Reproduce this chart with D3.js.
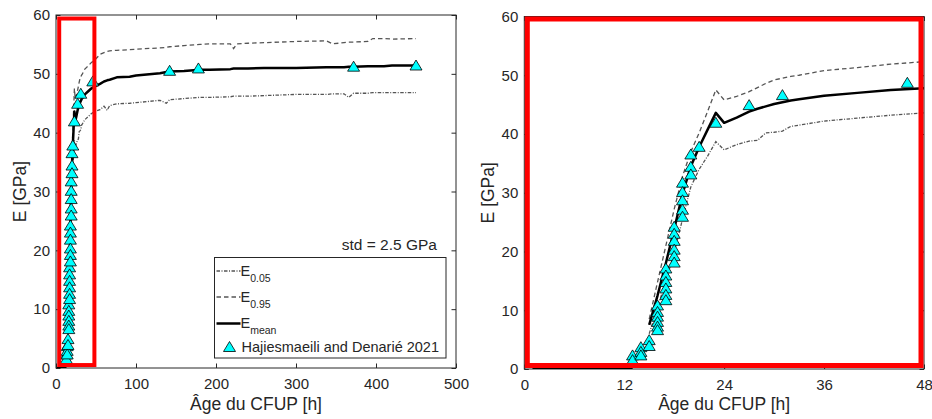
<!DOCTYPE html>
<html><head><meta charset="utf-8">
<script src="https://cdn.jsdelivr.net/npm/d3@7"></script>
<style>
body{margin:0;background:#fff}
svg{display:block}
text{font-family:"Liberation Sans",Arial,sans-serif;fill:#262626}
</style>
</head><body><svg id="c" width="932" height="419"></svg>
<script>
// ---------- data ----------
const hours = [1, 13, 14, 15, 16, 17, 18, 19, 20, 21, 22, 23, 24, 25.5, 27, 28, 29, 30, 31, 32, 33, 36, 40, 44, 48,
  55, 60, 64, 67, 76, 92, 100, 130, 138, 142, 160, 180, 192, 218, 222, 226, 240, 260, 300, 338, 346, 360, 366, 372, 390, 396, 410, 420, 450];
const eMean = [0, 0, null, 7.5, 12.5, 18.0, 23.8, 29.8, 34.5, 37.8, 40.7, 43.6, 41.9, 42.8, 43.8, 44.3, 44.7, 45.1, 45.4, 45.7, 45.9, 46.5, 47.0, 47.5, 47.8,
  48.3, 48.7, 48.9, 49.0, 49.4, 49.5, 49.7, 50.1, 50.3, 50.4, 50.5, 50.7, 50.7, 50.8, 50.9, 50.9, 50.9, 51.0, 51.0, 51.1, 51.1, 51.1, 51.2, 51.2, 51.3, 51.3, 51.3, 51.4, 51.4];
const eP95 = [0, 0, null, 8.5, 14.8, 21.0, 27.2, 32.8, 37.0, 40.2, 43.8, 47.5, 45.8, 46.4, 47.2, 47.9, 48.6, 49.2, 49.5, 49.8, 50.0, 50.8, 51.3, 51.9, 52.3,
  53.3, 53.6, 53.8, 53.9, 54.0, 54.1, 54.2, 54.4, 54.5, 54.6, 54.8, 55.0, 55.1, 55.1, 54.3, 55.1, 55.2, 55.3, 55.5, 55.6, 55.1, 55.3, 55.4, 55.4, 55.5, 56.0, 56.0, 55.9, 56.0];
const eP05 = [0, 0, null, 6.0, 10.5, 15.0, 19.8, 25.5, 31.0, 34.0, 36.2, 38.7, 37.3, 38.2, 38.8, 38.9, 40.2, 40.3, 40.5, 41.3, 41.5, 42.2, 42.7, 43.2, 43.6,
  43.9, 44.5, 43.8, 44.6, 44.9, 45.0, 45.1, 45.5, 45.0, 45.6, 45.8, 46.0, 46.0, 46.1, 46.2, 46.2, 46.2, 46.3, 46.5, 46.5, 46.6, 46.6, 46.0, 46.7, 46.7, 46.8, 46.8, 46.8, 46.8];
const obsHours = [13, 13, 14, 14, 14, 15, 15, 16, 16, 16, 16, 16, 16, 17, 17, 17, 17, 17, 17, 18, 18, 18, 18, 18, 18,
  19, 19, 19, 19, 19, 20, 20, 20, 21, 23, 27, 31, 46, 142, 178, 372, 450];
const obsE = [2.4, 1.6, 3.8, 3.0, 2.4, 5.0, 4.0, 10.9, 9.8, 9.0, 8.1, 7.3, 6.7, 17.2, 16.0, 14.9, 13.8, 12.7, 11.8, 24.3, 23.1, 21.9, 20.4, 19.3, 18.2,
  31.8, 30.2, 28.8, 27.2, 26.0, 36.6, 34.5, 33.2, 37.9, 42.0, 45.0, 46.7, 48.8, 50.6, 51.0, 51.3, 51.5];
const yTicks = [0, 10, 20, 30, 40, 50, 60];
const xTicksLeft = [0, 100, 200, 300, 400, 500];
const xTicksRight = [0, 12, 24, 36, 48];
const xLabel = "Âge du CFUP [h]";
const yLabel = "E [GPa]";
const legendLabels = [["E", "0.05"], ["E", "0.95"], ["E", "mean"], ["Hajiesmaeili and Denarié 2021", ""]];
const stdText = "std = 2.5 GPa";
const zoomWindow = {t0: 4, t1: 48, e0: 0.5, e1: 59.4};

// ---------- drawing ----------
const svg = d3.select('#c');
const gridCol = '#262626';
const panels = [
  {x0: 56, x1: 456, y0: 15, y1: 368, dom: [0, 500], ticks: xTicksLeft, ylx: 26, legend: true},
  {x0: 524.3, x1: 924, y0: 16.5, y1: 369, dom: [0, 48], ticks: xTicksRight, ylx: 494, legend: false}
];
const data = hours.map((t, i) => ({t, m: eMean[i], u: eP95[i], l: eP05[i]}));
const obs = obsHours.map((t, i) => ({t, e: obsE[i]}));
const tri = (w, h) => `M0,${-h/2}L${w/2},${h/2}L${-w/2},${h/2}Z`;

panels.forEach((p, pi) => {
  const x = d3.scaleLinear().domain(p.dom).range([p.x0, p.x1]);
  const y = d3.scaleLinear().domain([0, 60]).range([p.y1, p.y0]);
  const g = svg.append('g');
  const cid = 'clip' + pi;
  svg.append('clipPath').attr('id', cid).append('rect')
    .attr('x', p.x0).attr('y', p.y0).attr('width', p.x1 - p.x0).attr('height', p.y1 - p.y0);

  // frame
  g.append('rect').attr('x', p.x0).attr('y', p.y0).attr('width', p.x1 - p.x0).attr('height', p.y1 - p.y0)
    .attr('fill', '#fff').attr('stroke', gridCol).attr('stroke-width', 1);

  const axStyle = sel => {
    sel.select('.domain').remove();
    sel.selectAll('line').attr('stroke', gridCol).attr('stroke-width', 1);
    sel.selectAll('text').attr('font-size', 15).attr('font-family', '"Liberation Sans",Arial,sans-serif').attr('fill', gridCol);
    sel.attr('font-family', null).attr('font-size', null);
  };
  g.append('g').attr('transform', `translate(0,${p.y1})`)
    .call(d3.axisBottom(x).tickValues(p.ticks).tickSizeInner(-4.5).tickSizeOuter(0).tickPadding(10.5)).call(axStyle);
  g.append('g').attr('transform', `translate(0,${p.y0})`)
    .call(d3.axisTop(x).tickValues(p.ticks).tickSizeInner(-4.5).tickSizeOuter(0).tickFormat('')).call(axStyle);
  g.append('g').attr('transform', `translate(${p.x0},0)`)
    .call(d3.axisLeft(y).tickValues(yTicks).tickSizeInner(-4.5).tickSizeOuter(0).tickPadding(6)).call(axStyle);
  g.append('g').attr('transform', `translate(${p.x1},0)`)
    .call(d3.axisRight(y).tickValues(yTicks).tickSizeInner(-4.5).tickSizeOuter(0).tickFormat('')).call(axStyle);

  // labels
  g.append('text').attr('x', (p.x0 + p.x1) / 2).attr('y', 410).attr('text-anchor', 'middle')
    .attr('font-size', 17.5).text(xLabel);
  g.append('text').attr('transform', `translate(${p.ylx},${(p.y0 + p.y1) / 2}) rotate(-90)`)
    .attr('text-anchor', 'middle').attr('font-size', 17.5).text(yLabel);

  // lines
  const plot = g.append('g').attr('clip-path', `url(#${cid})`);
  const line = k => d3.line().defined(d => d[k] != null).x(d => x(d.t)).y(d => y(d[k]));
  plot.append('path').datum(data).attr('d', line('l')).attr('fill', 'none')
    .attr('stroke', '#555').attr('stroke-width', 1.3).attr('stroke-dasharray', '3.5,1.5,1,1.5');
  plot.append('path').datum(data).attr('d', line('u')).attr('fill', 'none')
    .attr('stroke', '#555').attr('stroke-width', 1.3).attr('stroke-dasharray', '4.5,3');
  plot.append('path').datum(data).attr('d', line('m')).attr('fill', 'none')
    .attr('stroke', '#000').attr('stroke-width', 2.5).attr('stroke-linejoin', 'round');

  // markers
  g.append('g').selectAll('path').data(obs.filter(d => d.t <= p.dom[1])).join('path')
    .attr('transform', d => `translate(${x(d.t)},${y(d.e)})`)
    .attr('d', tri(12, 10)).attr('fill', '#00ffff').attr('stroke', '#000').attr('stroke-width', 0.8);

  if (p.legend) {
    g.append('text').attr('x', 437).attr('y', 250).attr('text-anchor', 'end').attr('font-size', 15.5).text(stdText);
    const lg = g.append('g');
    lg.append('rect').attr('x', 214.5).attr('y', 257.5).attr('width', 231.5).attr('height', 100.5)
      .attr('fill', '#fff').attr('stroke', gridCol).attr('stroke-width', 1);
    const rows = [271, 297, 323.5, 346.5];
    const styles = [
      {c: '#555', w: 1.3, d: '3.5,1.5,1,1.5'},
      {c: '#555', w: 1.3, d: '4.5,3'},
      {c: '#000', w: 2.5, d: null}
    ];
    styles.forEach((s, i) => {
      lg.append('line').attr('x1', 216.5).attr('x2', 240.5).attr('y1', rows[i]).attr('y2', rows[i])
        .attr('stroke', s.c).attr('stroke-width', s.w).attr('stroke-dasharray', s.d);
      const t = lg.append('text').attr('x', 240.5).attr('y', rows[i] + 4.8).attr('font-size', 14.5);
      t.append('tspan').text(legendLabels[i][0]);
      t.append('tspan').attr('font-size', 10.5).attr('dy', 6).text(legendLabels[i][1]);
    });
    lg.append('path').attr('transform', `translate(229.5,${rows[3]})`).attr('d', tri(12, 10))
      .attr('fill', '#00ffff').attr('stroke', '#000').attr('stroke-width', 0.8);
    lg.append('text').attr('x', 241.5).attr('y', 351.5).attr('font-size', 14.5).text(legendLabels[3][0]);

    // red highlight of the zoom window
    g.append('rect').attr('x', x(zoomWindow.t0)).attr('y', y(zoomWindow.e1))
      .attr('width', x(zoomWindow.t1) - x(zoomWindow.t0)).attr('height', y(zoomWindow.e0) - y(zoomWindow.e1))
      .attr('fill', 'none').attr('stroke', '#ff0000').attr('stroke-width', 4);
  } else {
    g.append('rect').attr('x', p.x0 + 3).attr('y', p.y0 + 2.5).attr('width', p.x1 - p.x0 - 6).attr('height', p.y1 - p.y0 - 6)
      .attr('fill', 'none').attr('stroke', '#ff0000').attr('stroke-width', 5);
  }
});
</script></body></html>
